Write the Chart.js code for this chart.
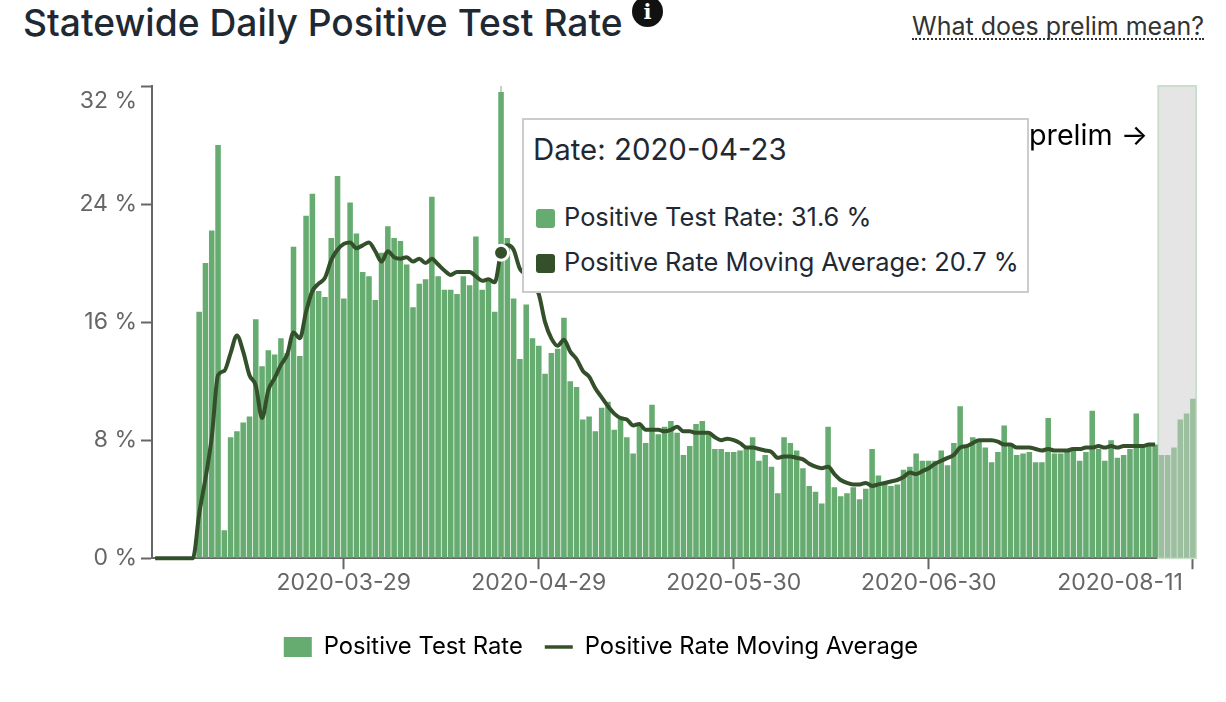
<!DOCTYPE html>
<html>
<head>
<meta charset="utf-8">
<title>Statewide Daily Positive Test Rate</title>
<script src="https://cdn.jsdelivr.net/npm/chart.js@4"></script>
<style>
    html, body { margin: 0; padding: 0; background: #fff; overflow: hidden; }
    body { width: 1226px; height: 702px; position: relative; font-family: Inter, sans-serif; color: #1f2933; }
    #chartCanvas { position: absolute; left: 0; top: 0; }
    h1 { position: absolute; left: 23px; top: 0; margin: 0; font-size: 37.2px; line-height: 46px; font-weight: 500; white-space: nowrap; }
    .info { position: absolute; left: 632px; top: -4px; width: 31px; height: 31px; border-radius: 50%; background: #111; color: #fff; font: 700 21px/31px "DejaVu Serif", serif; text-align: center; }
    .prelimLink { position: absolute; left: 912px; top: 11px; font-size: 25px; line-height: 30px; color: #333; border-bottom: 2px dotted #333; white-space: nowrap; height: 27px; }
    .prelimNote { position: absolute; left: 1029px; top: 118px; font-size: 28.7px; line-height: 34px; color: #000; white-space: nowrap; }
    #tip { position: absolute; box-sizing: border-box; background: #fff; border: 2px solid #ccc; color: #1f2933; white-space: nowrap; }
    #tip .head { position: absolute; left: 9px; top: 12px; font-size: 29.4px; line-height: 36px; }
    #tip .row { position: absolute; left: 12px; font-size: 25.4px; line-height: 32px; }
    #tip .swatch { display: inline-block; width: 19px; height: 19px; border-radius: 3px; margin-right: 9px; vertical-align: -2px; }
</style>
</head>
<body>
<h1>Statewide Daily Positive Test Rate</h1>
<div class="info">i</div>
<div class="prelimLink">What does prelim mean?</div>
<canvas id="chartCanvas" width="1221" height="669"></canvas>
<div class="prelimNote">prelim →</div>
<div id="tip"></div>
<script>
const dates = [
    '2020-02-28','2020-02-29',
    '2020-03-01','2020-03-02','2020-03-03','2020-03-04','2020-03-05','2020-03-06','2020-03-07','2020-03-08','2020-03-09','2020-03-10',
    '2020-03-11','2020-03-12','2020-03-13','2020-03-14','2020-03-15','2020-03-16','2020-03-17','2020-03-18','2020-03-19','2020-03-20',
    '2020-03-21','2020-03-22','2020-03-23','2020-03-24','2020-03-25','2020-03-26','2020-03-27','2020-03-28','2020-03-29','2020-03-30','2020-03-31',
    '2020-04-01','2020-04-02','2020-04-03','2020-04-04','2020-04-05','2020-04-06','2020-04-07','2020-04-08','2020-04-09','2020-04-10',
    '2020-04-11','2020-04-12','2020-04-13','2020-04-14','2020-04-15','2020-04-16','2020-04-17','2020-04-18','2020-04-19','2020-04-20',
    '2020-04-21','2020-04-22','2020-04-23','2020-04-24','2020-04-25','2020-04-26','2020-04-27','2020-04-28','2020-04-29','2020-04-30',
    '2020-05-01','2020-05-02','2020-05-03','2020-05-04','2020-05-05','2020-05-06','2020-05-07','2020-05-08','2020-05-09','2020-05-10',
    '2020-05-11','2020-05-12','2020-05-13','2020-05-14','2020-05-15','2020-05-16','2020-05-17','2020-05-18','2020-05-19','2020-05-20',
    '2020-05-21','2020-05-22','2020-05-23','2020-05-24','2020-05-25','2020-05-26','2020-05-27','2020-05-28','2020-05-29','2020-05-30','2020-05-31',
    '2020-06-01','2020-06-02','2020-06-03','2020-06-04','2020-06-05','2020-06-06','2020-06-07','2020-06-08','2020-06-09','2020-06-10',
    '2020-06-11','2020-06-12','2020-06-13','2020-06-14','2020-06-15','2020-06-16','2020-06-17','2020-06-18','2020-06-19','2020-06-20',
    '2020-06-21','2020-06-22','2020-06-23','2020-06-24','2020-06-25','2020-06-26','2020-06-27','2020-06-28','2020-06-29','2020-06-30',
    '2020-07-01','2020-07-02','2020-07-03','2020-07-04','2020-07-05','2020-07-06','2020-07-07','2020-07-08','2020-07-09','2020-07-10',
    '2020-07-11','2020-07-12','2020-07-13','2020-07-14','2020-07-15','2020-07-16','2020-07-17','2020-07-18','2020-07-19','2020-07-20',
    '2020-07-21','2020-07-22','2020-07-23','2020-07-24','2020-07-25','2020-07-26','2020-07-27','2020-07-28','2020-07-29','2020-07-30','2020-07-31',
    '2020-08-01','2020-08-02','2020-08-03','2020-08-04','2020-08-05','2020-08-06','2020-08-07','2020-08-08','2020-08-09','2020-08-10','2020-08-11'
];

const positiveRate = [
    0,0,0,0,0,0,0,
    16.7,20.0,22.2,28.0,1.9,8.2,8.6,9.2,9.6,16.2,13.0,14.1,13.8,14.9,13.9,21.1,13.7,23.2,24.7,18.1,17.7,21.7,25.9,17.6,24.1,22.0,
    19.4,19.1,17.5,20.7,22.5,21.7,21.5,19.9,17.0,18.6,18.9,24.5,19.1,18.2,18.2,17.9,19.1,18.5,21.8,18.2,18.8,16.7,31.6,21.7,17.6,13.5,17.2,14.9,14.4,12.5,
    13.9,14.2,16.3,12.0,11.6,9.4,9.6,8.6,10.2,10.6,8.7,9.6,8.2,7.1,9.0,7.8,10.4,8.4,8.9,9.3,8.5,7.0,7.6,9.1,9.3,8.4,7.4,7.4,7.2,7.2,7.3,
    7.4,8.2,6.6,7.0,6.2,4.4,8.2,7.8,7.3,6.1,4.9,4.5,3.7,8.9,4.8,4.2,4.4,4.8,4.0,4.7,7.4,5.6,5.1,4.9,5.0,6.0,6.2,7.1,6.6,6.6,
    6.6,7.3,6.3,7.8,10.3,7.7,8.2,7.9,7.5,6.5,7.2,9.0,7.6,7.0,7.1,7.2,6.5,6.5,9.5,7.1,7.1,7.2,7.5,6.6,7.2,10.0,7.4,6.6,8.0,6.8,7.0,
    7.4,9.8,7.5,7.7,7.7,7.0,7.0,7.5,9.4,9.8,10.8
];

const movingAverage = [
    0,0,0,0,0,0,0,
    3.0,5.4,8.2,12.4,12.7,13.9,15.1,14.0,12.4,11.7,9.5,11.4,12.2,13.1,13.8,15.3,14.9,16.7,18.1,18.6,19.0,20.2,20.9,21.3,21.4,21.0,
    21.2,21.4,20.8,20.1,20.8,20.4,20.3,20.4,20.1,20.3,20.0,20.3,19.9,19.5,19.2,19.4,19.4,19.4,19.1,18.8,18.9,18.7,20.7,21.2,20.9,19.6,19.2,18.6,17.9,16.0,
    14.9,14.4,14.8,14.0,13.5,12.7,12.3,11.5,10.9,10.3,9.8,9.5,9.4,9.0,9.1,8.7,8.7,8.7,8.6,8.7,8.9,8.6,8.6,8.5,8.5,8.5,8.2,8.0,8.1,8.0,7.8,
    7.5,7.5,7.4,7.3,7.2,6.8,6.9,6.9,6.8,6.7,6.4,6.2,6.1,6.2,5.7,5.3,5.1,5.0,5.0,5.1,4.9,5.0,5.1,5.2,5.3,5.5,5.8,5.7,5.9,6.1,
    6.4,6.6,6.8,7.0,7.5,7.6,7.8,8.0,8.0,8.0,7.9,7.7,7.7,7.5,7.5,7.5,7.4,7.3,7.4,7.3,7.3,7.3,7.4,7.4,7.5,7.5,7.6,7.5,7.6,7.5,7.6,
    7.6,7.6,7.6,7.7,7.7,null,null,null,null,null,null
];

const xTickDates = ['2020-03-29','2020-04-29','2020-05-30','2020-06-30','2020-08-11'];
const yTickValues = [0, 8, 16, 24, 32];
const prelimStart = '2020-08-06';
const hoverDate = '2020-04-23';

const barColor = '#66ab6f';
const barColorPrelim = '#9cc09f';
const lineColor = '#34502b';
const axisColor = '#666';
const tickFont = { family: 'Inter, sans-serif', size: 23 };

const prelimIdx = dates.indexOf(prelimStart);
const hoverIdx = dates.indexOf(hoverDate);
const lastTick = xTickDates[xTickDates.length - 1];

function barFill(ctx) {
    return ctx.dataIndex >= prelimIdx ? barColorPrelim : barColor;
}

// grey prelim band and the hover cursor, both behind the bars
const backdropPlugin = {
    id: 'backdrop',
    beforeDatasetsDraw(chart) {
        const { ctx, chartArea, scales } = chart;
        const half = (scales.x.getPixelForValue(1) - scales.x.getPixelForValue(0)) / 2;
        const left = scales.x.getPixelForValue(prelimIdx) - half;
        ctx.save();
        ctx.fillStyle = '#e5e5e5';
        ctx.strokeStyle = '#c9dfcb';
        ctx.lineWidth = 2;
        ctx.fillRect(left, chartArea.top, chartArea.right - left, chartArea.height);
        ctx.strokeRect(left, chartArea.top, chartArea.right - left, chartArea.height);
        const cx = scales.x.getPixelForValue(hoverIdx);
        ctx.strokeStyle = '#ccc';
        ctx.beginPath();
        ctx.moveTo(cx, chartArea.top);
        ctx.lineTo(cx, chartArea.bottom);
        ctx.stroke();
        ctx.restore();
    }
};

// the last date label sits left of its tick so it does not run off the chart
const lastLabelPlugin = {
    id: 'lastLabel',
    afterDraw(chart) {
        const { ctx, scales } = chart;
        ctx.save();
        ctx.font = tickFont.size + 'px ' + tickFont.family;
        ctx.fillStyle = axisColor;
        ctx.textAlign = 'right';
        ctx.textBaseline = 'middle';
        ctx.fillText(lastTick, scales.x.getPixelForValue(dates.indexOf(lastTick)) - 10, 583);
        ctx.restore();
    }
};

function drawTip(context) {
    const tip = document.getElementById('tip');
    const model = context.tooltip;
    const pt = context.chart.scales.x.getPixelForValue(hoverIdx);
    tip.style.left = (pt + 21) + 'px';
    tip.style.top = '118px';
    tip.style.width = '507px';
    tip.style.height = '175px';
    const swatches = [barColor, lineColor];
    const tops = [81, 126];
    let html = '<div class="head">' + model.title[0] + '</div>';
    model.body.forEach((b, i) => {
        html += '<div class="row" style="top:' + tops[i] + 'px"><span class="swatch" style="background:' + swatches[i] + '"></span>' + b.lines[0] + '</div>';
    });
    tip.innerHTML = html;
}

const chart = new Chart(document.getElementById('chartCanvas').getContext('2d'), {
    type: 'bar',
    data: {
        labels: dates,
        datasets: [
            {
                label: 'Positive Test Rate',
                data: positiveRate,
                backgroundColor: barFill,
                hoverBackgroundColor: barFill,
                barPercentage: 0.88,
                categoryPercentage: 1,
                order: 2
            },
            {
                type: 'line',
                label: 'Positive Rate Moving Average',
                data: movingAverage,
                borderColor: lineColor,
                backgroundColor: lineColor,
                borderWidth: 4,
                cubicInterpolationMode: 'monotone',
                pointRadius: 0,
                pointHoverRadius: 7.5,
                pointHoverBackgroundColor: lineColor,
                pointHoverBorderColor: '#fff',
                pointHoverBorderWidth: 3,
                clip: false,
                order: 1
            }
        ]
    },
    options: {
        responsive: false,
        animation: false,
        events: [],
        layout: { padding: { top: 86, right: 25, left: 6, bottom: 0 } },
        scales: {
            x: {
                type: 'category',
                grid: { offset: false, drawOnChartArea: false, drawTicks: true, tickLength: 11, tickColor: axisColor, tickWidth: 2 },
                border: { display: true, color: axisColor, width: 2 },
                afterBuildTicks(axis) {
                    axis.ticks = xTickDates.map(d => ({ value: dates.indexOf(d) }));
                },
                afterFit(axis) { axis.height = 55; },
                ticks: {
                    autoSkip: false,
                    maxRotation: 0,
                    color: axisColor,
                    font: tickFont,
                    padding: 0,
                    callback(value) {
                        const d = dates[value];
                        return d === lastTick ? '' : d;
                    }
                }
            },
            y: {
                min: 0,
                max: 32,
                grid: { drawOnChartArea: false, drawTicks: true, tickLength: 11, tickColor: axisColor, tickWidth: 2 },
                border: { display: true, color: axisColor, width: 2 },
                afterBuildTicks(axis) {
                    axis.ticks = yTickValues.map(v => ({ value: v }));
                },
                afterFit(axis) { axis.width = 146; },
                ticks: {
                    color: axisColor,
                    font: { family: tickFont.family, size: tickFont.size, lineHeight: 1.3 },
                    padding: 4,
                    // blank first line pushes the top label down below its tick
                    callback: v => v === 32 ? ['', v + ' %'] : v + ' %'
                }
            }
        },
        plugins: {
            legend: {
                position: 'bottom',
                labels: {
                    usePointStyle: true,
                    pointStyleWidth: 28,
                    boxHeight: 20,
                    padding: 22,
                    color: '#333',
                    font: { family: tickFont.family, size: 23.8 },
                    generateLabels() {
                        return [
                            { text: 'Positive Test Rate', fillStyle: barColor, strokeStyle: barColor, lineWidth: 0, pointStyle: 'rect', datasetIndex: 0 },
                            { text: 'Positive Rate Moving Average', fillStyle: lineColor, strokeStyle: lineColor, lineWidth: 3.5, pointStyle: 'line', datasetIndex: 1 }
                        ];
                    }
                }
            },
            tooltip: {
                enabled: false,
                mode: 'index',
                external: drawTip,
                callbacks: {
                    title: items => 'Date: ' + items[0].label,
                    label: item => item.dataset.label + ': ' + item.parsed.y + ' %'
                }
            }
        }
    },
    plugins: [backdropPlugin, lastLabelPlugin]
});

const hovered = [{ datasetIndex: 0, index: hoverIdx }, { datasetIndex: 1, index: hoverIdx }];
chart.setActiveElements(hovered);
chart.tooltip.setActiveElements(hovered, { x: 0, y: 0 });
chart.update();
</script>
</body>
</html>
